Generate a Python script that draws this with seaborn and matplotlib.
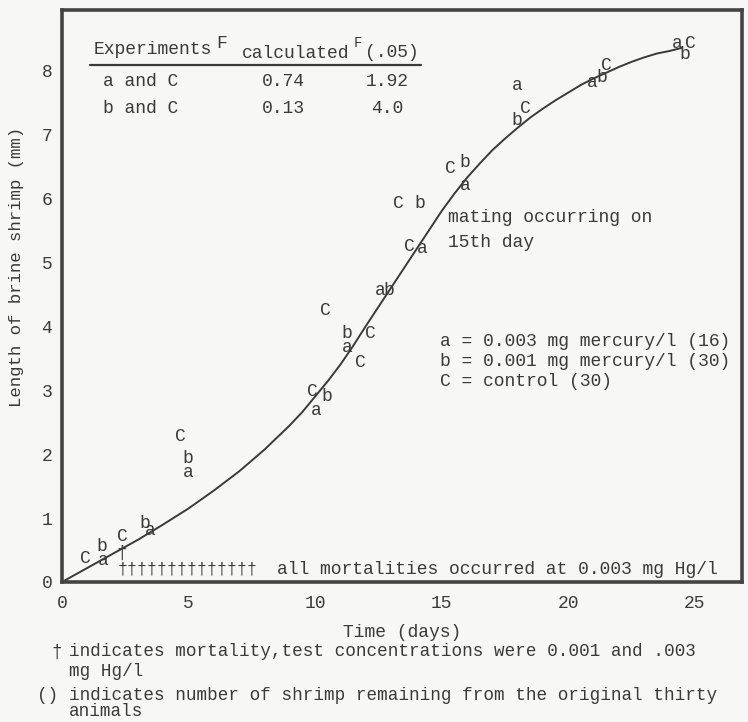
import numpy as np
import pandas as pd
import matplotlib
matplotlib.use("Agg")
import matplotlib.pyplot as plt
import seaborn as sns

# ---------------- data ----------------
curve_days = [0, 1, 2, 3, 4, 5, 6, 7, 8, 9, 9.5, 10, 10.5, 11, 11.5, 12, 12.5,
              13, 13.5, 14, 14.5, 15, 15.5, 16, 16.5, 17, 17.5, 18, 18.5, 19,
              19.5, 20, 20.5, 21, 21.5, 22, 22.5, 23, 23.5, 24, 24.5]
curve_length = [0, 0.22, 0.44, 0.66, 0.90, 1.15, 1.43, 1.73, 2.07, 2.45, 2.66,
                2.90, 3.14, 3.40, 3.69, 4.00, 4.30, 4.60, 4.90, 5.20, 5.50,
                5.80, 6.07, 6.32, 6.54, 6.75, 6.93, 7.10, 7.26, 7.40, 7.53,
                7.65, 7.77, 7.87, 7.96, 8.05, 8.13, 8.20, 8.26, 8.30, 8.35]

a_days = [1.62, 3.48, 4.98, 10.04, 11.26, 12.57, 14.23, 15.93, 17.98, 20.95, 24.30]
a_length = [0.33, 0.80, 1.71, 2.68, 3.67, 4.55, 5.22, 6.20, 7.76, 7.80, 8.42]

b_days = [1.58, 3.28, 4.98, 10.47, 11.26, 12.89, 14.15, 15.93, 17.98, 21.34, 24.62]
b_length = [0.55, 0.91, 1.93, 2.90, 3.89, 4.55, 5.91, 6.56, 7.22, 7.89, 8.24]

c_days = [0.91, 2.37, 4.66, 9.88, 10.40, 11.80, 12.17, 13.30, 13.72, 15.34, 18.30, 21.50, 24.82]
c_length = [0.36, 0.71, 2.27, 2.98, 4.24, 3.43, 3.89, 5.91, 5.24, 6.46, 7.40, 8.08, 8.42]

mortality_days = [2.37]
mortality_length = [0.45]

x_ticks = [0, 5, 10, 15, 20, 25]
y_ticks = [0, 1, 2, 3, 4, 5, 6, 7, 8]

table_rows = ["a and C", "b and C"]
f_calculated = ["0.74", "0.13"]
f_05 = ["1.92", "4.0"]

legend_lines = ["a = 0.003 mg mercury/l (16)",
                "b = 0.001 mg mercury/l (30)",
                "C = control (30)"]

# ---------------- style ----------------
FONT = ["Liberation Mono", "DejaVu Sans Mono"]
INK = "#3a3a3a"
PAPER = "#f7f7f5"
sns.set_style("white")
plt.rcParams["font.family"] = FONT
plt.rcParams["text.color"] = INK
plt.rcParams["axes.labelcolor"] = INK
plt.rcParams["xtick.color"] = INK
plt.rcParams["ytick.color"] = INK

fig = plt.figure(figsize=(7.48, 7.22), dpi=100, facecolor=PAPER)
ax = fig.add_axes([62 / 748, 1 - 582 / 722, 680 / 748, 572 / 722])
ax.set_facecolor(PAPER)

FS = 13

# fitted growth curve
sns.lineplot(x=curve_days, y=curve_length, ax=ax, color=INK, lw=1.4,
             estimator=None, sort=False)

# letter markers
for lab, xs, ys in (("a", a_days, a_length), ("b", b_days, b_length),
                    ("C", c_days, c_length), ("\u2020", mortality_days, mortality_length)):
    for x, y in zip(xs, ys):
        ax.text(x, y, lab, ha="center", va="center", fontsize=FS, color=INK)

ax.set_xlim(0, 26.86)
ax.set_ylim(0, 8.94)
ax.set_xticks(x_ticks)
ax.set_yticks(y_ticks)
ax.tick_params(axis="x", direction="inout", length=6, width=1.5, pad=6, labelsize=FS)
ax.tick_params(axis="y", direction="out", length=5, width=1.5, pad=2, labelsize=FS)
for s in ax.spines.values():
    s.set_visible(True)
    s.set_color("#444444")
    s.set_linewidth(2.6)

ax.set_xlabel("Time (days)", fontsize=FS, labelpad=9)
ax.set_ylabel("Length of brine shrimp (mm)", fontsize=12.5)
ax.yaxis.set_label_coords(-0.056, 0.55)

# table of F values
ax.text(1.23, 8.33, "Experiments", fontsize=FS, ha="left", va="center")
ax.text(6.32, 8.42, "F", fontsize=FS, ha="center", va="center")
ax.text(7.11, 8.26, "calculated", fontsize=FS, ha="left", va="center")
ax.text(11.7, 8.42, "F", fontsize=10, ha="center", va="center")
ax.text(11.98, 8.28, "(.05)", fontsize=FS, ha="left", va="center")
ax.plot([1.1, 14.2], [8.08, 8.08], color=INK, lw=1.6)
for i, (r, fc, f5) in enumerate(zip(table_rows, f_calculated, f_05)):
    yy = [7.82, 7.40][i]
    ax.text(1.62, yy, r, fontsize=FS, ha="left", va="center")
    ax.text(8.74, yy, fc, fontsize=FS, ha="center", va="center")
    ax.text(12.85, yy, f5, fontsize=FS, ha="center", va="center")

# annotations
ax.text(15.26, 5.69, "mating occurring on", fontsize=FS, ha="left", va="center")
ax.text(15.26, 5.31, "15th day", fontsize=FS, ha="left", va="center")
for i, line in enumerate(legend_lines):
    ax.text(14.94, [3.76, 3.45, 3.13][i], line, fontsize=FS, ha="left", va="center")
ax.text(2.2, 0.2, "\u2020" * 14, fontsize=12, ha="left", va="center")
ax.text(8.5, 0.2, "all mortalities occurred at 0.003 mg Hg/l", fontsize=FS,
        ha="left", va="center")

# footnotes
FN = 12.7
fig.text(57 / 748, 1 - 652 / 722, "\u2020", fontsize=FN, ha="center", va="center")
fig.text(69 / 748, 1 - 652 / 722,
         "indicates mortality,test concentrations were 0.001 and .003",
         fontsize=FN, ha="left", va="center")
fig.text(69 / 748, 1 - 672 / 722, "mg Hg/l", fontsize=FN, ha="left", va="center")
fig.text(58 / 748, 1 - 695 / 722, "()", fontsize=FN, ha="right", va="center")
fig.text(69 / 748, 1 - 695 / 722,
         "indicates number of shrimp remaining from the original thirty",
         fontsize=FN, ha="left", va="center")
fig.text(69 / 748, 1 - 712 / 722, "animals", fontsize=FN, ha="left", va="center")

fig.savefig("out.png", dpi=100, facecolor=PAPER)
